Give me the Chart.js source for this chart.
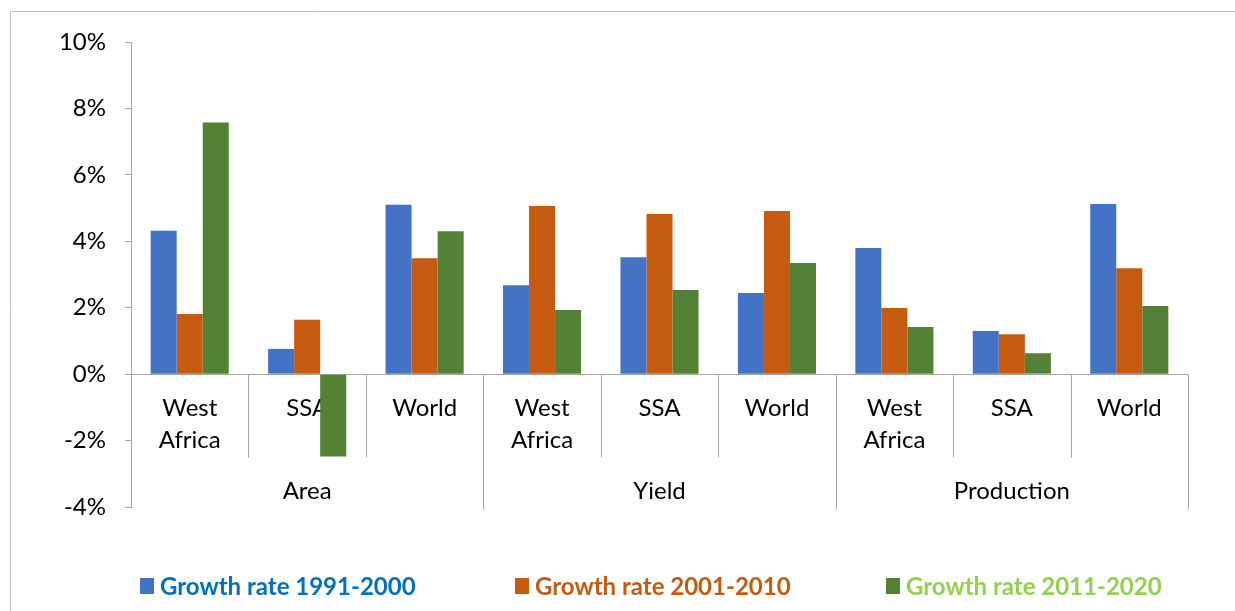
<!DOCTYPE html>
<html>
<head>
<meta charset="utf-8">
<script src="https://cdn.jsdelivr.net/npm/chart.js@4.4.8/dist/chart.umd.min.js"></script>
<style>
  html, body { margin: 0; padding: 0; background: #fff; }
  #wrap { width: 1235px; height: 611px; position: relative; }
</style>
</head>
<body>
<div id="wrap"><canvas id="growth"></canvas></div>
<script>
// Growth rates (%) by indicator and region, three decades.
const regions = [['West', 'Africa'], 'SSA', 'World', ['West', 'Africa'], 'SSA', 'World', ['West', 'Africa'], 'SSA', 'World'];
const groups = ['Area', 'Yield', 'Production'];
const seriesNames = ['Growth rate 1991-2000', 'Growth rate 2001-2010', 'Growth rate 2011-2020'];
const rate1991 = [4.32, 0.76, 5.10, 2.68, 3.52, 2.44, 3.80, 1.30, 5.12];
const rate2001 = [1.81, 1.64, 3.49, 5.06, 4.82, 4.91, 1.99, 1.20, 3.19];
const rate2011 = [7.58, -2.48, 4.30, 1.93, 2.53, 3.35, 1.42, 0.63, 2.05];
const yTicks = [-4, -2, 0, 2, 4, 6, 8, 10];

const barColors = ['#4472C4', '#C55A11', '#548235'];
const legendText = ['#0070C0', '#C55A11', '#92D050'];
const axisGrey = '#A6A6A6';
const FONT = 'Lato, "Open Sans", sans-serif';

// Frame, category separators, group labels and the legend.
const decor = {
  id: 'decor',
  beforeDraw(chart) {
    const { ctx } = chart;
    ctx.save();
    ctx.strokeStyle = '#BFBFBF';
    ctx.lineWidth = 1;
    ctx.beginPath();
    ctx.moveTo(10.5, chart.height);
    ctx.lineTo(10.5, 11.5);
    ctx.lineTo(chart.width, 11.5);
    ctx.stroke();
    ctx.restore();
  },
  afterDraw(chart) {
    const { ctx } = chart;
    const x = chart.scales.x;
    const y = chart.scales.y;
    const zero = Math.round(y.getPixelForValue(0)) + 0.5;
    const step = x.getPixelForValue(1) - x.getPixelForValue(0);
    const perGroup = regions.length / groups.length;
    ctx.save();
    ctx.strokeStyle = axisGrey;
    ctx.lineWidth = 1;
    for (let i = 1; i <= regions.length; i++) {
      const px = Math.round(x.getPixelForValue(i) - step / 2) + 0.5;
      const groupEdge = i % perGroup === 0;
      ctx.beginPath();
      ctx.moveTo(px, zero);
      ctx.lineTo(px, groupEdge ? zero + 135 : zero + 83);
      ctx.stroke();
    }
    ctx.fillStyle = '#000';
    ctx.font = `24px ${FONT}`;
    ctx.textAlign = 'center';
    ctx.textBaseline = 'middle';
    groups.forEach((g, gi) => {
      const a = x.getPixelForValue(gi * perGroup) - step / 2;
      const b = x.getPixelForValue((gi + 1) * perGroup - 1) + step / 2;
      ctx.fillText(g, (a + b) / 2, zero + 117);
    });

    // legend row
    const starts = [140, 515, 886];
    ctx.font = `bold 24px ${FONT}`;
    ctx.textAlign = 'left';
    chart.data.datasets.forEach((ds, i) => {
      ctx.fillStyle = ds.backgroundColor;
      ctx.fillRect(starts[i], 578, 14, 16);
      ctx.fillStyle = legendText[i];
      ctx.fillText(ds.label, starts[i] + 20, 587);
    });
    ctx.restore();
  }
};

new Chart(document.getElementById('growth'), {
  type: 'bar',
  data: {
    labels: regions,
    datasets: [
      { label: seriesNames[0], data: rate1991, backgroundColor: barColors[0] },
      { label: seriesNames[1], data: rate2001, backgroundColor: barColors[1] },
      { label: seriesNames[2], data: rate2011, backgroundColor: barColors[2] },
    ],
  },
  options: {
    responsive: true,
    maintainAspectRatio: false,
    animation: false,
    layout: { padding: { left: 10, right: 47, top: 42, bottom: 104 } },
    datasets: { bar: { categoryPercentage: 0.665, barPercentage: 1.0, borderWidth: 0 } },
    plugins: { legend: { display: false }, tooltip: { enabled: false } },
    scales: {
      x: {
        position: { y: 0 },
        afterFit: (s) => { s.height = 0; },
        grid: { display: false },
        border: { color: axisGrey, width: 1 },
        ticks: {
          color: '#000',
          font: { family: FONT, size: 24, lineHeight: 1.35 },
          padding: 10,
          maxRotation: 0,
          autoSkip: false,
        },
      },
      y: {
        min: -4,
        max: 10,
        afterFit: (s) => { s.width = 121; },
        afterBuildTicks: (s) => { s.ticks = yTicks.map(v => ({ value: v })); },
        grid: { drawOnChartArea: false, tickLength: 6, color: axisGrey },
        border: { color: axisGrey, width: 1 },
        ticks: {
          color: '#000',
          font: { family: FONT, size: 24 },
          padding: 19,
          callback: (v) => v + '%',
        },
      },
    },
  },
  plugins: [decor],
});
</script>
</body>
</html>
